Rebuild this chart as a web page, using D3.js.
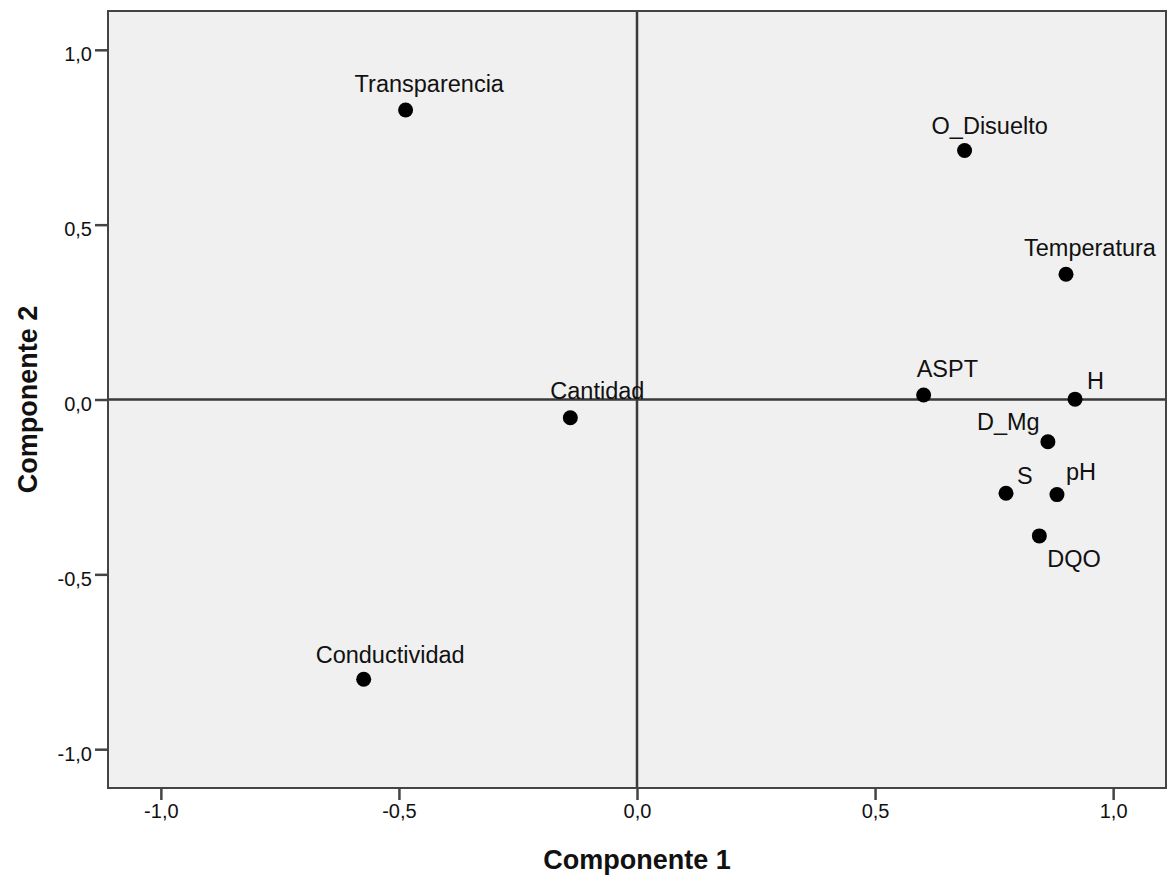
<!DOCTYPE html>
<html>
<head>
<meta charset="utf-8">
<script src="https://cdn.jsdelivr.net/npm/d3@7"></script>
<style>
  body { margin: 0; background: #fff; }
  text { font-family: "Liberation Sans", Arial, sans-serif; fill: #111; }
</style>
</head>
<body>
<div class="chart"></div>
<script>
// component loadings
let variables = ['Transparencia', 'O_Disuelto', 'Temperatura', 'ASPT', 'H', 'Cantidad',
  'D_Mg', 'S', 'pH', 'DQO', 'Conductividad'];
let comp1 = [-0.486, 0.688, 0.901, 0.602, 0.920, -0.140, 0.863, 0.775, 0.882, 0.845, -0.574];
let comp2 = [0.828, 0.712, 0.358, 0.013, 0.001, -0.052, -0.121, -0.268, -0.272, -0.390, -0.800];

let xTicks = [-1, -0.5, 0, 0.5, 1];
let yTicks = [-1, -0.5, 0, 0.5, 1];

// label placement relative to each point (px)
let labelOffsets = {
  'Transparencia': [-51, -18], 'O_Disuelto': [-33, -17], 'Temperatura': [-42, -18],
  'ASPT': [-7, -18], 'H': [12, -10], 'Cantidad': [-20, -19], 'D_Mg': [-71, -12],
  'S': [11, -9], 'pH': [9, -15], 'DQO': [8, 31], 'Conductividad': [-48, -16]
};

let margin = {top: 11, right: 4, bottom: 90, left: 108};
let fullWidth = 1170;
let fullHeight = 878;
let width = fullWidth - margin.left - margin.right;
let height = 788 - margin.top;

let svg = d3.select('.chart')
  .append('svg')
    .attr('width', fullWidth)
    .attr('height', fullHeight)
  .append('g')
    .attr('transform', `translate(${margin.left}, ${margin.top})`);

let xScale = d3.scaleLinear().domain([-1.111, 1.111]).range([0, width]);
let yScale = d3.scaleLinear().domain([-1.111, 1.111]).range([height, 0]);

let fmt = d => d3.format('.1f')(d).replace('.', ',').replace('−', '-');

svg.append('rect')
  .attr('width', width)
  .attr('height', height)
  .style('fill', '#f0f0f0');

// zero reference lines
svg.append('line')
  .attr('x1', 0).attr('x2', width)
  .attr('y1', yScale(0)).attr('y2', yScale(0))
  .style('stroke', '#3a3a3a').style('stroke-width', 2.5);
svg.append('line')
  .attr('x1', xScale(0)).attr('x2', xScale(0))
  .attr('y1', 0).attr('y2', height)
  .style('stroke', '#3a3a3a').style('stroke-width', 2.5);

svg.append('rect')
  .attr('width', width)
  .attr('height', height)
  .style('fill', 'none')
  .style('stroke', '#444')
  .style('stroke-width', 2);

let xAxis = d3.axisBottom(xScale)
  .tickValues(xTicks)
  .tickFormat(fmt)
  .tickSizeInner(12)
  .tickSizeOuter(0)
  .tickPadding(4);
let gx = svg.append('g')
  .attr('transform', `translate(0, ${height})`)
  .call(xAxis);
gx.select('.domain').remove();
gx.selectAll('.tick line').style('stroke', '#444').style('stroke-width', 2.5);
gx.selectAll('.tick text')
  .style('font-size', '20px')
  .attr('fill', '#222')
  .attr('font-family', '"Liberation Sans", Arial, sans-serif');

let yAxis = d3.axisLeft(yScale)
  .tickValues(yTicks)
  .tickFormat(fmt)
  .tickSizeInner(13)
  .tickSizeOuter(0)
  .tickPadding(3);
let gy = svg.append('g').call(yAxis);
gy.select('.domain').remove();
gy.selectAll('.tick line').style('stroke', '#444').style('stroke-width', 2.5);
gy.selectAll('.tick text')
  .style('font-size', '20px')
  .attr('dy', '0.55em')
  .attr('fill', '#222')
  .attr('font-family', '"Liberation Sans", Arial, sans-serif');

let points = variables.map((v, i) => ({name: v, x: comp1[i], y: comp2[i]}));

svg.selectAll('circle.pt')
  .data(points)
  .enter()
  .append('circle')
    .attr('class', 'pt')
    .attr('cx', d => xScale(d.x))
    .attr('cy', d => yScale(d.y))
    .attr('r', 7.5)
    .style('fill', '#000');

svg.selectAll('text.lbl')
  .data(points)
  .enter()
  .append('text')
    .attr('class', 'lbl')
    .attr('x', d => xScale(d.x) + labelOffsets[d.name][0])
    .attr('y', d => yScale(d.y) + labelOffsets[d.name][1])
    .style('font-size', '23.5px')
    .text(d => d.name);

// axis titles
svg.append('text')
  .attr('x', width / 2 + (xScale(0) - width / 2))
  .attr('y', 869 - margin.top)
  .attr('text-anchor', 'middle')
  .style('font-size', '27px')
  .style('font-weight', 'bold')
  .text('Componente 1');

svg.append('text')
  .attr('transform', `translate(${37 - margin.left}, ${yScale(0)}) rotate(-90)`)
  .attr('text-anchor', 'middle')
  .style('font-size', '27px')
  .style('font-weight', 'bold')
  .text('Componente 2');
</script>
</body>
</html>
